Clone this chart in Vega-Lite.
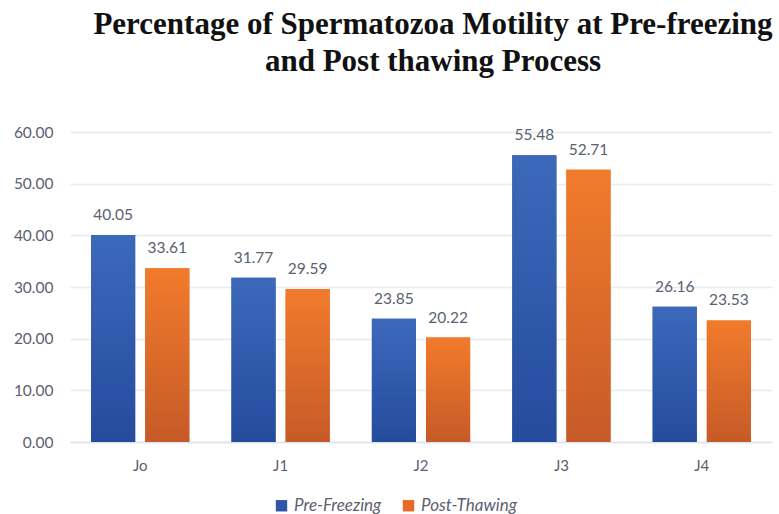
{
  "$schema": "https://vega.github.io/schema/vega-lite/v6.json",
  "autosize": "none",
  "width": 702,
  "height": 310,
  "padding": {"left": 70, "top": 132, "right": 7, "bottom": 72},
  "background": "white",
  "title": {
    "text": ["Percentage of Spermatozoa Motility at Pre-freezing", "and Post thawing Process"],
    "font": "Liberation Serif",
    "fontSize": 31,
    "fontWeight": "bold",
    "color": "#111111",
    "anchor": "middle",
    "dx": 12,
    "offset": 47,
    "lineHeight": 37
  },
  "data": {
    "values": [
      {"group": "Jo", "series": "Pre-Freezing", "value": 40.05},
      {"group": "Jo", "series": "Post-Thawing", "value": 33.61},
      {"group": "J1", "series": "Pre-Freezing", "value": 31.77},
      {"group": "J1", "series": "Post-Thawing", "value": 29.59},
      {"group": "J2", "series": "Pre-Freezing", "value": 23.85},
      {"group": "J2", "series": "Post-Thawing", "value": 20.22},
      {"group": "J3", "series": "Pre-Freezing", "value": 55.48},
      {"group": "J3", "series": "Post-Thawing", "value": 52.71},
      {"group": "J4", "series": "Pre-Freezing", "value": 26.16},
      {"group": "J4", "series": "Post-Thawing", "value": 23.53}
    ]
  },
  "encoding": {
    "x": {
      "field": "group",
      "type": "nominal",
      "sort": ["Jo", "J1", "J2", "J3", "J4"],
      "scale": {"paddingInner": 0.3, "paddingOuter": 0.15},
      "axis": {
        "title": null,
        "labelAngle": 0,
        "labelFont": "Lato",
        "labelFontSize": 15,
        "labelColor": "#5b6170",
        "labelPadding": 16,
        "ticks": false,
        "domainColor": "#dde3ea",
        "domainWidth": 1.5
      }
    },
    "xOffset": {
      "field": "series",
      "type": "nominal",
      "sort": ["Pre-Freezing", "Post-Thawing"],
      "scale": {"paddingInner": 0.185, "paddingOuter": 0}
    },
    "y": {
      "field": "value",
      "type": "quantitative",
      "scale": {"domain": [0, 60]},
      "axis": {
        "title": null,
        "values": [0, 10, 20, 30, 40, 50, 60],
        "format": ".2f",
        "labelFont": "Lato",
        "labelFontSize": 15.5,
        "labelColor": "#5b6170",
        "labelPadding": 17,
        "ticks": false,
        "domain": false,
        "gridColor": "#e6ecf2",
        "gridWidth": 1.5
      }
    }
  },
  "layer": [
    {
      "mark": {"type": "bar"},
      "encoding": {
        "color": {
          "field": "series",
          "type": "nominal",
          "sort": ["Pre-Freezing", "Post-Thawing"],
          "scale": {"domain": ["Pre-Freezing", "Post-Thawing"], "range": ["#2f56a6", "#e8692a"]},
          "legend": {
            "title": null,
            "orient": "none",
            "direction": "horizontal",
            "legendX": 203,
            "legendY": 365,
            "symbolType": "square",
            "symbolSize": 130,
            "symbolStrokeWidth": 0,
            "labelFont": "Lato",
            "labelFontSize": 17,
            "labelFontStyle": "italic",
            "labelColor": "#5b6170",
            "columnPadding": 18,
            "labelOffset": 4
          }
        }
      }
    },
    {
      "mark": {"type": "bar"},
      "encoding": {
        "color": {
          "condition": {
            "test": "datum.series === 'Pre-Freezing'",
            "value": {
              "gradient": "linear", "x1": 0, "y1": 0, "x2": 0, "y2": 1,
              "stops": [{"offset": 0, "color": "#3d69ba"}, {"offset": 1, "color": "#254b9d"}]
            }
          },
          "value": {
            "gradient": "linear", "x1": 0, "y1": 0, "x2": 0, "y2": 1,
            "stops": [{"offset": 0, "color": "#f27b2b"}, {"offset": 1, "color": "#c65a28"}]
          }
        }
      }
    },
    {
      "mark": {"type": "text", "baseline": "middle", "dy": -20, "font": "Lato", "fontSize": 15.5, "color": "#5b6170"},
      "encoding": {
        "text": {"field": "value", "type": "quantitative", "format": ".2f"}
      }
    }
  ],
  "config": {"view": {"stroke": null}}
}
